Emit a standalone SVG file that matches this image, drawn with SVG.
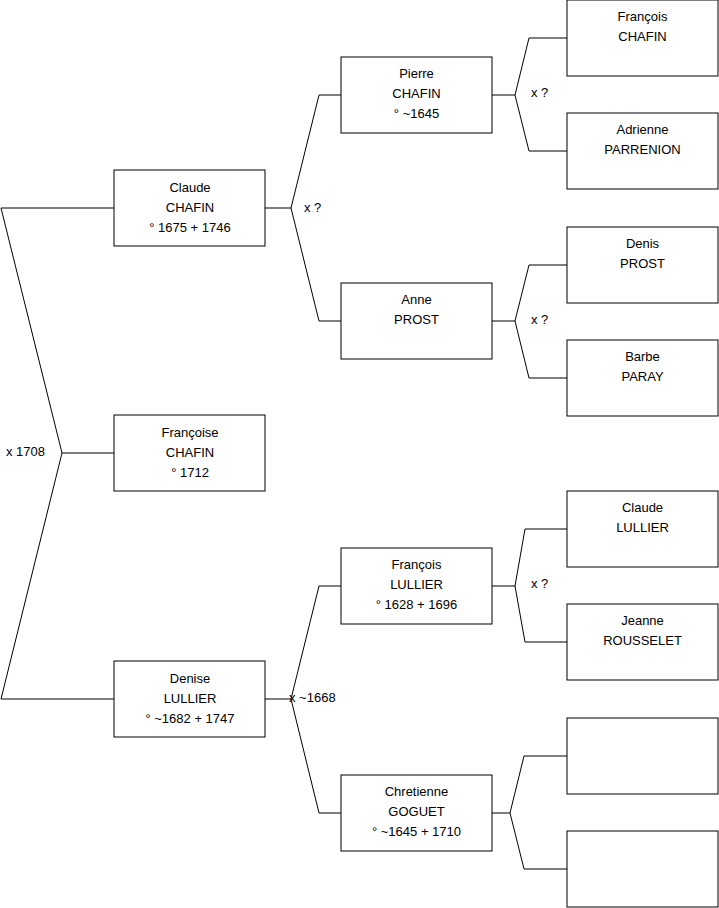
<svg xmlns="http://www.w3.org/2000/svg" width="719" height="908" viewBox="0 0 719 908">
<style>
.box{fill:#fff;stroke:#000;stroke-width:1}
.t{font-family:"Liberation Sans",Arial,sans-serif;font-size:13px;fill:#000;text-anchor:middle}
.l{font-family:"Liberation Sans",Arial,sans-serif;font-size:13px;fill:#000}
.c{fill:none;stroke:#000;stroke-width:1}
</style>
<rect width="719" height="908" fill="#fff"/>
<g id="connectors">
<path class="c" d="M1,208 H114 M1,208 L62,453 L1,699 H114 M62,453 H114"/>
<path class="c" d="M265,208 H291 L319,95 H341 M291,208 L319,321 H341"/>
<path class="c" d="M265,699 H291 L319,586 H341 M291,699 L319,813 H341"/>
<path class="c" d="M492,95 H515 L529,38 H567 M515,95 L529,151 H567"/>
<path class="c" d="M492,321 H515 L529,265 H567 M515,321 L529,378 H567"/>
<path class="c" d="M492,586 H515 L525,529 H567 M515,586 L525,642 H567"/>
<path class="c" d="M492,813 H510 L524,756 H567 M510,813 L524,869 H567"/>
<text class="l" x="6" y="456">x 1708</text>
<text class="l" x="304" y="212">x ?</text>
<text class="l" x="289" y="702">x ~1668</text>
<text class="l" x="531" y="97">x ?</text>
<text class="l" x="531" y="324">x ?</text>
<text class="l" x="531" y="588">x ?</text>
</g>
<g id="claude-chafin"><rect class="box" x="114" y="170" width="151" height="76"/>
<text class="t" x="190" y="191.5">Claude</text><text class="t" x="190" y="211.5">CHAFIN</text><text class="t" x="190" y="231.5">° 1675 + 1746</text></g>
<g id="francoise-chafin"><rect class="box" x="114" y="415" width="151" height="76"/>
<text class="t" x="190" y="437">Françoise</text><text class="t" x="190" y="457">CHAFIN</text><text class="t" x="190" y="477">° 1712</text></g>
<g id="denise-lullier"><rect class="box" x="114" y="661" width="151" height="76"/>
<text class="t" x="190" y="682.5">Denise</text><text class="t" x="190" y="702.5">LULLIER</text><text class="t" x="190" y="722.5">° ~1682 + 1747</text></g>
<g id="pierre-chafin"><rect class="box" x="341" y="57" width="151" height="76"/>
<text class="t" x="416.5" y="78">Pierre</text><text class="t" x="416.5" y="98">CHAFIN</text><text class="t" x="416.5" y="118">° ~1645</text></g>
<g id="anne-prost"><rect class="box" x="341" y="283" width="151" height="76"/>
<text class="t" x="416.5" y="304">Anne</text><text class="t" x="416.5" y="324">PROST</text></g>
<g id="francois-lullier"><rect class="box" x="341" y="548" width="151" height="76"/>
<text class="t" x="416.5" y="569">François</text><text class="t" x="416.5" y="589">LULLIER</text><text class="t" x="416.5" y="609">° 1628 + 1696</text></g>
<g id="chretienne-goguet"><rect class="box" x="341" y="775" width="151" height="76"/>
<text class="t" x="416.5" y="796">Chretienne</text><text class="t" x="416.5" y="816">GOGUET</text><text class="t" x="416.5" y="836">° ~1645 + 1710</text></g>
<g id="francois-chafin"><rect class="box" x="567" y="0" width="151" height="76"/>
<text class="t" x="642.5" y="21">François</text><text class="t" x="642.5" y="41">CHAFIN</text></g>
<g id="adrienne-parrenion"><rect class="box" x="567" y="113" width="151" height="76"/>
<text class="t" x="642.5" y="134">Adrienne</text><text class="t" x="642.5" y="154">PARRENION</text></g>
<g id="denis-prost"><rect class="box" x="567" y="227" width="151" height="76"/>
<text class="t" x="642.5" y="248">Denis</text><text class="t" x="642.5" y="268">PROST</text></g>
<g id="barbe-paray"><rect class="box" x="567" y="340" width="151" height="76"/>
<text class="t" x="642.5" y="361">Barbe</text><text class="t" x="642.5" y="381">PARAY</text></g>
<g id="claude-lullier"><rect class="box" x="567" y="491" width="151" height="76"/>
<text class="t" x="642.5" y="512">Claude</text><text class="t" x="642.5" y="532">LULLIER</text></g>
<g id="jeanne-rousselet"><rect class="box" x="567" y="604" width="151" height="76"/>
<text class="t" x="642.5" y="625">Jeanne</text><text class="t" x="642.5" y="645">ROUSSELET</text></g>
<g id="empty-1"><rect class="box" x="567" y="718" width="151" height="76"/></g>
<g id="empty-2"><rect class="box" x="567" y="831" width="151" height="76"/></g>
</svg>
